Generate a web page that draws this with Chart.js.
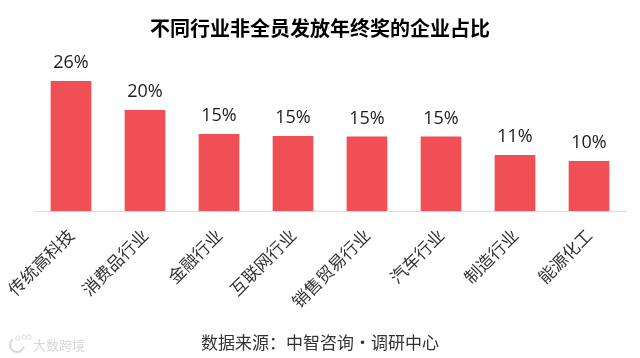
<!DOCTYPE html>
<html>
<head>
<meta charset="utf-8">
<script src="https://cdn.jsdelivr.net/npm/chart.js@4"></script>
<style>
  html, body { margin: 0; padding: 0; background: #fff; }
  #wrap { position: relative; width: 640px; height: 358px; }
</style>
</head>
<body>
<div id="wrap"><canvas id="chart" width="640" height="358"></canvas></div>
<script>
const chartTitle = '不同行业非全员发放年终奖的企业占比';
const sourceNote = '数据来源：中智咨询·调研中心';
const watermark = '大数跨境';

const categories = ['传统高科技', '消费品行业', '金融行业', '互联网行业', '销售贸易行业', '汽车行业', '制造行业', '能源化工'];
const barValues = [26, 20.2, 15.4, 15, 14.9, 14.9, 11.2, 10];
const barLabels = ['26%', '20%', '15%', '15%', '15%', '15%', '11%', '10%'];

const cjk = '"Noto Sans CJK SC", "Noto Sans", sans-serif';

// value labels above the bars, source line and watermark
const extraText = {
    id: 'extraText',
    afterDatasetsDraw(chart) {
        const c = chart.ctx;
        c.save();
        c.textAlign = 'center';
        c.textBaseline = 'alphabetic';
        c.fillStyle = '#1c1c1c';
        c.font = '18px "Open Sans", sans-serif';
        chart.getDatasetMeta(0).data.forEach((bar, i) => {
            c.fillText(barLabels[i], bar.x, bar.y - 13);
        });
        c.fillStyle = '#333333';
        c.font = '17px ' + cjk;
        c.fillText(sourceNote, 320, 349);

        // faint logo + name, bottom left
        c.strokeStyle = '#dadada';
        c.lineWidth = 2;
        c.beginPath();
        c.arc(17, 345, 7, 0.2, Math.PI * 1.3);
        c.stroke();
        c.lineWidth = 1;
        [[18, 338], [24, 337], [29, 337]].forEach(([x, y]) => {
            c.beginPath();
            c.arc(x, y, 2.2, 0, Math.PI * 2);
            c.stroke();
        });
        c.textAlign = 'left';
        c.fillStyle = '#d8d8d8';
        c.font = '13px ' + cjk;
        c.fillText(watermark, 33, 350);
        c.restore();
    }
};

new Chart(document.getElementById('chart').getContext('2d'), {
    type: 'bar',
    data: {
        labels: categories,
        datasets: [{
            data: barValues,
            backgroundColor: '#f04f55',
            categoryPercentage: 0.55,
            barPercentage: 1
        }]
    },
    options: {
        responsive: false,
        animation: false,
        // even padding keeps the title centred on the page; the plot inset is set in afterFit
        layout: { padding: { left: 14, right: 14, top: 0, bottom: 0 } },
        plugins: {
            legend: { display: false },
            tooltip: { enabled: false },
            title: {
                display: true,
                text: chartTitle,
                color: '#000000',
                font: { family: cjk, size: 20, weight: 'bold' },
                padding: { top: 16, bottom: 0 }
            }
        },
        scales: {
            y: {
                display: false,
                min: 0,
                max: 34.2
            },
            x: {
                grid: { display: false, drawTicks: false },
                border: { color: '#dcdcdc', width: 1 },
                ticks: {
                    color: '#333333',
                    font: { family: cjk, size: 17 },
                    minRotation: 45,
                    maxRotation: 45,
                    padding: 14,
                    autoSkip: false
                },
                afterFit(scale) {
                    scale.height = 147;
                    // the rotated first label must not decide the plot inset
                    scale.paddingLeft = 34;
                    scale.paddingRight = 0;
                }
            }
        }
    },
    plugins: [extraText]
});
</script>
</body>
</html>
